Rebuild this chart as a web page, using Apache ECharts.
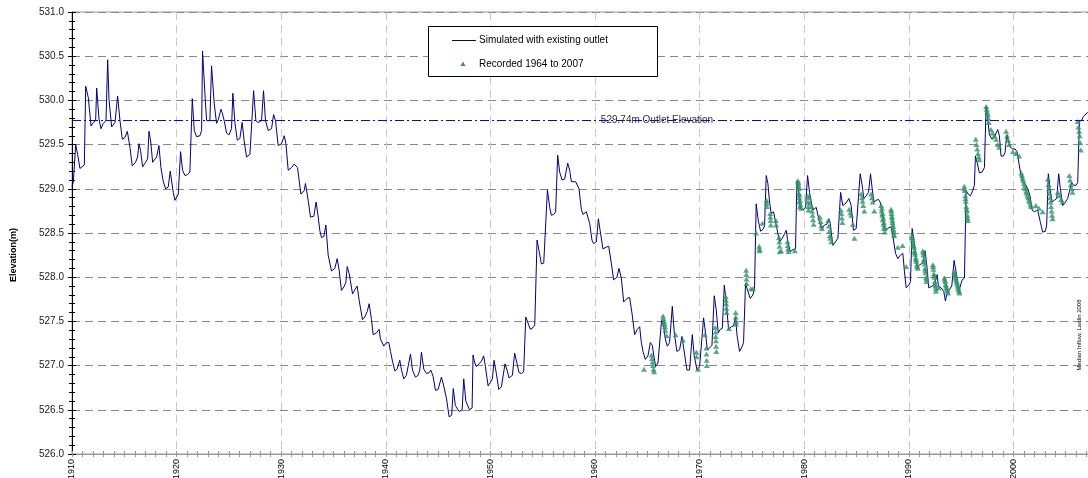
<!DOCTYPE html>
<html><head><meta charset="utf-8">
<script src="https://cdn.jsdelivr.net/npm/echarts@6/dist/echarts.min.js"></script>
<style>html,body{margin:0;padding:0;background:#fff}#c{width:1088px;height:478px}</style>
</head><body><div id="c"></div>
<script>
// ---- data ----
const seriesNames = ['Simulated with existing outlet', 'Recorded 1964 to 2007'];
const outletElevation = 529.77;
const outletLabel = '529.74m Outlet Elevation';
const yAxisTitle = 'Elevation(m)';
const creditText = 'Median Inflow, Laidin 2008';

const simulated = [
[1910.0,529.02],[1910.13,529.08],[1910.35,529.50],[1910.54,529.39],[1910.76,529.23],[1910.92,529.24],[1911.18,529.27],[1911.31,530.16],[1911.56,530.03],[1911.82,529.71],[1912.04,529.75],[1912.26,529.77],[1912.36,530.14],[1912.58,529.79],[1912.77,529.68],[1912.99,529.74],[1913.25,529.77],[1913.41,530.46],[1913.54,530.01],[1913.79,529.70],[1914.11,529.75],[1914.27,529.77],[1914.36,530.05],[1914.59,529.77],[1914.81,529.56],[1915.06,529.58],[1915.29,529.65],[1915.54,529.47],[1915.76,529.26],[1916.08,529.30],[1916.27,529.36],[1916.40,529.51],[1916.56,529.43],[1916.75,529.25],[1917.04,529.30],[1917.23,529.34],[1917.36,529.65],[1917.52,529.54],[1917.71,529.30],[1918.09,529.36],[1918.31,529.49],[1918.50,529.24],[1918.73,529.08],[1918.95,529.00],[1919.20,529.02],[1919.39,529.20],[1919.52,529.18],[1919.68,528.96],[1919.84,528.87],[1920.16,528.94],[1920.38,529.42],[1920.57,529.21],[1920.80,529.15],[1921.02,529.16],[1921.27,529.19],[1921.50,530.02],[1921.69,529.66],[1921.91,529.59],[1922.23,529.60],[1922.39,529.66],[1922.48,530.56],[1922.71,530.07],[1922.87,529.77],[1923.18,529.77],[1923.34,530.39],[1923.60,529.96],[1923.82,529.74],[1923.98,529.78],[1924.24,529.90],[1924.36,529.86],[1924.55,529.77],[1924.78,529.63],[1925.00,529.61],[1925.25,529.68],[1925.38,530.08],[1925.57,529.75],[1925.80,529.55],[1926.05,529.57],[1926.27,529.75],[1926.46,529.54],[1926.69,529.36],[1927.01,529.39],[1927.17,529.41],[1927.36,530.11],[1927.58,529.77],[1927.80,529.75],[1928.12,529.77],[1928.31,530.11],[1928.50,529.77],[1928.76,529.66],[1929.08,529.68],[1929.27,529.84],[1929.46,529.77],[1929.71,529.49],[1930.03,529.51],[1930.29,529.60],[1930.45,529.51],[1930.67,529.21],[1930.99,529.24],[1931.24,529.28],[1931.37,529.30],[1931.56,529.24],[1931.88,528.94],[1932.20,528.98],[1932.32,529.06],[1932.58,528.87],[1932.80,528.68],[1933.12,528.69],[1933.34,528.85],[1933.54,528.68],[1933.69,528.53],
[1933.85,528.45],[1934.08,528.46],[1934.27,528.59],[1934.49,528.25],[1934.81,528.07],[1935.13,528.10],[1935.35,528.21],[1935.54,528.08],[1935.76,527.85],[1935.99,527.89],[1936.18,527.94],[1936.31,528.12],[1936.50,528.04],[1936.62,528.02],[1936.82,527.81],[1937.04,527.86],[1937.26,527.90],[1937.45,527.74],[1937.77,527.52],[1937.99,527.55],[1938.22,527.61],[1938.41,527.70],[1938.63,527.52],[1938.79,527.35],[1939.11,527.37],[1939.36,527.41],[1939.49,527.30],[1939.81,527.22],[1940.06,527.26],[1940.29,527.26],[1940.45,527.16],[1940.64,527.05],[1940.86,526.94],[1941.08,526.96],[1941.34,527.06],[1941.50,526.95],[1941.72,526.85],[1941.97,526.89],[1942.13,526.91],[1942.36,527.13],[1942.55,526.95],[1942.83,526.87],[1943.09,526.89],[1943.25,526.95],[1943.41,527.15],[1943.63,526.96],[1943.89,526.91],[1944.14,526.92],[1944.30,526.95],[1944.52,526.88],[1944.75,526.72],[1945.00,526.73],[1945.16,526.73],[1945.32,526.87],[1945.54,526.77],[1945.80,526.63],[1946.05,526.42],[1946.30,526.44],[1946.45,526.74],[1946.65,526.55],[1947.00,526.48],[1947.30,526.50],[1947.45,526.85],[1947.65,526.60],[1948.00,526.50],[1948.25,526.52],[1948.34,527.12],[1948.50,527.03],[1948.66,526.99],[1948.92,527.02],[1949.14,527.05],[1949.36,527.11],[1949.52,526.99],[1949.78,526.77],[1950.00,526.81],[1950.19,526.85],[1950.35,527.06],[1950.57,526.91],[1950.80,526.73],[1951.05,526.76],[1951.21,526.77],[1951.40,527.02],[1951.59,526.95],[1951.78,526.86],[1952.10,526.89],[1952.32,527.14],[1952.55,527.02],[1952.74,526.92],[1952.96,526.91],[1953.18,526.93],[1953.38,527.55],[1953.60,527.48],[1953.82,527.41],[1954.08,527.43],[1954.24,527.46],[1954.46,528.42],[1954.65,528.30],[1954.87,528.15],[1955.10,528.16],[1955.29,528.17],[1955.45,528.99],[1955.67,528.79],[1955.83,528.70],[1956.05,528.71],[1956.24,528.74],[1956.43,529.38],[1956.62,529.19],[1956.85,529.10],[1957.10,529.11],[1957.26,529.12],[1957.39,529.29],[1957.58,529.21],[1957.74,529.08],[1957.90,529.06],[1958.15,529.08],[1958.28,529.09],[1958.47,529.00],[1958.69,528.77],[1958.85,528.71],[1959.17,528.74],[1959.33,528.75],[1959.49,528.61],[1959.71,528.42],[1959.87,528.38],[1960.13,528.40],[1960.32,528.66],
[1960.76,528.32],[1961.08,528.34],[1961.31,528.35],[1961.56,528.16],[1961.78,527.97],[1962.10,528.00],[1962.29,528.10],[1962.52,527.99],[1962.74,527.72],[1963.06,527.76],[1963.31,527.77],[1963.54,527.59],[1963.79,527.35],[1964.04,527.41],[1964.27,527.44],[1964.43,527.26],[1964.59,527.16],[1964.81,527.07],[1965.06,527.11],[1965.29,527.26],[1965.48,527.23],[1965.61,527.12],[1965.80,526.99],[1966.02,527.03],[1966.18,527.05],[1966.37,527.52],[1966.56,527.44],[1966.75,527.29],[1966.91,527.22],[1967.13,527.26],[1967.39,527.67],[1967.58,527.37],[1967.83,527.16],[1968.09,527.18],[1968.31,527.33],[1968.50,527.18],[1968.79,526.95],[1969.04,526.95],[1969.30,527.35],[1969.49,527.11],[1969.75,526.95],[1970.00,526.99],[1970.16,527.01],[1970.38,527.54],[1970.57,527.37],[1970.73,527.18],[1970.96,527.20],[1971.18,527.23],[1971.40,527.79],[1971.59,527.63],[1971.78,527.37],[1971.97,527.41],[1972.17,527.42],[1972.36,527.91],[1972.55,527.72],[1972.77,527.41],[1973.03,527.44],[1973.25,527.45],[1973.44,527.55],[1973.57,527.35],[1973.82,527.16],[1974.08,527.22],[1974.20,527.26],[1974.39,527.93],[1974.62,527.84],[1974.84,527.76],[1975.10,527.80],[1975.25,527.87],[1975.41,528.83],[1975.61,528.64],[1975.83,528.52],[1976.05,528.54],[1976.21,528.58],[1976.37,529.15],[1976.53,529.06],[1976.69,528.85],[1976.85,528.72],[1977.07,528.74],[1977.26,528.76],[1977.39,528.55],[1977.64,528.40],[1977.90,528.44],[1978.12,528.49],[1978.28,528.53],[1978.44,528.40],[1978.66,528.29],[1978.92,528.31],[1979.17,528.32],[1979.30,529.09],[1979.46,528.96],[1979.62,528.79],[1979.87,528.76],[1980.13,528.79],[1980.32,529.15],[1980.51,528.96],[1980.67,528.85],[1980.83,528.76],[1981.15,528.79],[1981.31,528.81],[1981.46,528.62],[1981.69,528.55],[1981.94,528.59],[1982.17,528.60],[1982.36,528.66],[1982.48,528.61],[1982.74,528.36],[1982.99,528.40],[1983.22,528.44],
[1983.48,528.96],[1983.69,528.81],[1984.01,528.84],[1984.27,528.89],[1984.49,528.81],[1984.71,528.53],[1984.97,528.55],[1985.13,528.57],[1985.35,529.17],[1985.54,529.04],[1985.70,528.89],[1985.92,528.92],[1986.15,528.96],[1986.34,529.17],[1986.50,529.00],[1986.66,528.85],[1986.88,528.87],[1987.10,528.88],[1987.26,528.85],[1987.42,528.76],[1987.68,528.57],[1987.83,528.53],[1988.09,528.56],[1988.31,528.57],[1988.47,528.47],[1988.73,528.27],[1988.95,528.21],[1989.20,528.25],[1989.43,528.27],[1989.59,528.06],[1989.75,527.88],[1990.00,527.91],[1990.16,527.95],[1990.32,528.55],[1990.51,528.40],[1990.76,528.12],[1991.02,528.14],[1991.34,528.16],[1991.56,528.30],[1991.75,528.10],[1991.91,527.88],[1992.23,527.90],[1992.45,527.92],[1992.71,528.03],[1992.83,527.90],[1993.09,527.88],[1993.34,527.84],[1993.50,527.73],[1993.66,527.82],[1993.89,527.86],[1994.11,527.90],[1994.33,528.19],[1994.52,528.06],[1994.78,527.84],[1995.10,527.97],[1995.32,527.99],[1995.48,528.98],[1995.67,528.94],[1995.89,528.92],[1996.11,528.98],[1996.27,529.04],[1996.37,529.37],[1996.53,529.30],[1996.75,529.18],[1997.01,529.19],[1997.23,529.24],[1997.39,529.93],[1997.55,529.78],[1997.71,529.61],[1997.96,529.56],[1998.18,529.58],[1998.34,529.63],[1998.50,529.67],[1998.66,529.60],[1998.82,529.37],[1999.04,529.37],[1999.20,529.41],[1999.36,529.61],[1999.55,529.60],[1999.71,529.47],[1999.94,529.45],[2000.16,529.45],[2000.35,529.42],[2000.57,529.26],[2000.73,529.15],[2000.89,529.07],[2001.15,529.05],[2001.37,529.00],[2001.59,528.92],[2001.78,528.76],[2002.01,528.74],[2002.32,528.76],[2002.58,528.62],[2002.80,528.51],[2003.06,528.52],[2003.18,528.59],[2003.34,529.17],[2003.50,529.00],[2003.69,528.85],[2003.92,528.87],[2004.14,528.89],[2004.33,529.17],[2004.49,529.00],[2004.71,528.81],[2004.97,528.85],[2005.19,528.89],[2005.41,529.00],[2005.57,529.07],[2005.76,529.04],[2005.99,529.04],[2006.15,529.07],[2006.31,529.76],[2006.56,529.78],[2006.69,529.82],[2006.88,529.84],[2007.07,529.86],[2007.3,529.88]
];

const recorded = [
[1964.68,526.96],
[1965.40,527.12],[1965.45,527.08],[1965.50,527.04],[1965.55,527.00],[1965.60,526.96],[1965.65,526.93],
[1966.50,527.56],[1966.55,527.53],[1966.60,527.50],[1966.65,527.47],[1966.70,527.44],[1966.72,527.40],[1966.85,527.34],
[1967.70,527.35],[1968.40,527.29],
[1969.70,527.15],[1969.72,527.10],[1969.85,526.96],
[1970.50,527.35],[1970.65,527.20],[1970.66,527.13],[1970.68,527.06],[1970.70,527.00],
[1971.50,527.43],[1971.52,527.38],[1971.54,527.33],[1971.56,527.28],[1971.58,527.22],[1971.60,527.16],
[1972.50,527.78],[1972.52,527.74],[1972.54,527.70],[1972.56,527.65],[1972.58,527.60],[1972.80,527.42],
[1973.45,527.60],[1973.46,527.55],[1973.47,527.50],[1973.48,527.47],
[1974.45,528.08],[1974.47,528.03],[1974.49,527.98],[1974.50,527.93],[1974.90,527.87],[1975.10,527.87],
[1975.40,528.50],[1975.70,528.35],[1975.72,528.32],[1975.74,528.30],[1976.00,528.61],
[1976.40,528.87],[1976.42,528.84],[1976.44,528.80],
[1976.75,528.72],[1976.77,528.68],[1976.79,528.64],[1976.81,528.59],
[1977.30,528.64],[1977.32,528.59],
[1977.60,528.45],[1977.62,528.40],[1977.64,528.35],[1977.66,528.29],[1977.80,528.30],
[1978.40,528.40],[1978.43,528.36],[1978.46,528.32],[1978.50,528.29],[1979.10,528.30],
[1979.40,529.09],[1979.43,529.05],[1979.46,529.00],[1979.50,528.95],[1979.53,528.90],[1979.56,528.85],[1979.60,528.80],
[1979.45,529.07],[1979.50,529.02],[1979.55,528.93],[1979.60,528.87],[1979.65,528.82],[1979.70,528.78],
[1980.35,528.92],[1980.37,528.85],[1980.39,528.80],[1980.41,528.76],[1980.47,528.90],[1980.55,528.84],
[1980.70,528.80],[1980.75,528.75],[1980.80,528.70],[1980.85,528.65],[1980.90,528.60],
[1981.50,528.68],[1981.57,528.63],[1981.63,528.58],[1981.70,528.55],
[1982.30,528.64],[1982.35,528.58],[1982.40,528.52],[1982.45,528.47],[1982.50,528.44],[1982.60,528.40],
[1983.50,528.76],[1983.55,528.72],[1983.60,528.67],[1983.65,528.62],
[1984.30,528.77],[1984.40,528.73],[1984.50,528.70],[1984.65,528.60],[1984.80,528.44],
[1985.45,528.94],[1985.52,528.90],[1985.58,528.86],[1985.65,528.81],[1985.75,528.75],
[1986.40,528.94],[1986.47,528.90],[1986.55,528.85],[1986.70,528.75],
[1987.35,528.81],[1987.40,528.75],[1987.46,528.70],[1987.52,528.65],[1987.58,528.60],[1987.64,528.55],[1987.70,528.51],
[1987.43,528.78],[1987.49,528.72],[1987.55,528.67],[1987.61,528.62],[1987.67,528.57],
[1988.30,528.77],[1988.35,528.72],[1988.40,528.67],[1988.45,528.62],[1988.50,528.57],[1988.55,528.52],[1988.60,528.47],
[1988.33,528.75],[1988.38,528.69],[1988.43,528.64],[1988.48,528.59],[1988.53,528.54],[1988.58,528.49],
[1988.95,528.34],[1989.40,528.36],[1989.75,528.12],
[1990.30,528.47],[1990.36,528.42],[1990.42,528.38],[1990.48,528.34],[1990.54,528.30],[1990.60,528.26],[1990.66,528.22],[1990.72,528.18],[1990.78,528.14],[1990.85,528.10],
[1990.33,528.45],[1990.45,528.36],[1990.57,528.28],[1990.69,528.20],[1990.81,528.12],
[1991.35,528.30],[1991.40,528.25],[1991.45,528.20],[1991.50,528.15],[1991.55,528.10],[1991.60,528.05],[1991.65,528.00],[1991.70,527.95],
[1991.38,528.28],[1991.48,528.18],[1991.58,528.08],[1991.68,527.98],
[1992.30,528.14],[1992.35,528.09],[1992.40,528.04],[1992.45,528.00],[1992.50,527.95],[1992.55,527.90],[1992.60,527.84],[1992.85,527.88],
[1992.33,528.12],[1992.43,528.02],[1992.53,527.92],[1992.58,527.87],
[1993.40,527.99],[1993.48,527.95],[1993.56,527.90],[1993.65,527.86],[1993.75,527.82],
[1993.44,527.97],[1993.52,527.92],[1993.60,527.88],[1993.70,527.84],
[1994.35,528.06],[1994.43,528.02],[1994.51,527.98],[1994.60,527.94],[1994.68,527.90],[1994.76,527.86],[1994.85,527.82],
[1994.39,528.04],[1994.47,528.00],[1994.55,527.96],[1994.64,527.92],[1994.72,527.88],[1994.80,527.84],
[1995.30,529.03],[1995.35,528.98],[1995.40,528.92],[1995.45,528.86],[1995.50,528.80],[1995.55,528.75],[1995.60,528.70],[1995.65,528.64],
[1995.33,529.00],[1995.43,528.89],[1995.53,528.77],[1995.62,528.67],
[1996.40,529.56],[1996.47,529.50],[1996.54,529.45],[1996.61,529.40],[1996.68,529.36],[1996.75,529.33],
[1997.40,529.93],[1997.45,529.90],[1997.50,529.87],[1997.55,529.84],[1997.60,529.80],[1997.65,529.75],
[1997.85,529.67],[1998.00,529.63],[1998.18,529.60],[1998.35,529.56],[1998.50,529.50],[1998.65,529.47],
[1999.30,529.65],[1999.40,529.60],[1999.50,529.55],[1999.60,529.50],
[1999.95,529.42],[2000.25,529.40],[2000.55,529.37],
[2000.75,529.18],[2000.88,529.12],[2001.02,529.06],[2001.15,529.00],[2001.28,528.95],[2001.42,528.90],[2001.56,528.85],[2001.70,528.80],
[2000.82,529.15],[2000.95,529.09],[2001.08,529.03],[2001.22,528.97],[2001.35,528.92],[2001.49,528.87],[2001.63,528.82],
[2002.15,528.81],[2002.45,528.78],[2002.80,528.74],
[2003.30,529.11],[2003.35,529.05],[2003.40,529.00],[2003.45,528.95],[2003.50,528.90],[2003.55,528.85],[2003.60,528.80],[2003.65,528.75],[2003.70,528.70],[2003.75,528.66],
[2004.25,528.96],[2004.40,528.92],[2004.55,528.88],[2004.70,528.85],
[2005.35,529.15],[2005.42,529.10],[2005.50,529.05],[2005.58,529.00],[2005.65,528.96],
[2006.15,529.76],[2006.22,529.70],[2006.28,529.65],[2006.34,529.60],[2006.40,529.52],[2006.45,529.44]
];

// ---- chart ----
const chart = echarts.init(document.getElementById('c'), null, {renderer: 'canvas'});
const FONT = '"Liberation Sans", Arial, sans-serif';
const xBase = {
  type: 'value', min: 1910, max: 2010, interval: 10, position: 'bottom', gridIndex: 0
};
const yBase = {
  type: 'value', min: 526, max: 531, interval: 0.5, position: 'left', gridIndex: 0
};
const option = {
  animation: false,
  backgroundColor: '#fff',
  grid: {left: 72, right: -30, top: 12, bottom: 24, show: true, borderColor: '#999', borderWidth: 1, containLabel: false, outerBoundsMode: 'none'},
  xAxis: [
    Object.assign({}, xBase, {
      axisLine: {show: true, lineStyle: {color: '#999', width: 1}},
      axisTick: {show: true, length: 3, lineStyle: {color: '#999'}},
      minorTick: {show: true, splitNumber: 10, length: 3, lineStyle: {color: '#999'}},
      axisLabel: {show: true, rotate: 90, margin: 5, fontSize: 9, color: '#000', fontFamily: FONT,
        formatter: v => (v % 10 === 0 && v <= 2000) ? String(v) : ''},
      splitLine: {show: true, lineStyle: {color: '#c8c8c8', width: 1, type: [8, 5]}},
      minorSplitLine: {show: false}
    }),
    Object.assign({}, xBase, {
      axisLine: {show: false},
      axisTick: {show: true, inside: true, length: 3, lineStyle: {color: '#999'}},
      minorTick: {show: true, splitNumber: 10, length: 3, lineStyle: {color: '#999'}},
      axisLabel: {show: false}, splitLine: {show: false}
    })
  ],
  yAxis: [
    Object.assign({}, yBase, {
      axisLine: {show: true, lineStyle: {color: '#000', width: 1}},
      axisTick: {show: true, length: 4, lineStyle: {color: '#000'}},
      minorTick: {show: true, splitNumber: 5, length: 3, lineStyle: {color: '#000'}},
      axisLabel: {show: true, margin: 8, fontSize: 10, color: '#222', fontFamily: FONT,
        formatter: v => v.toFixed(1)},
      splitLine: {show: true, lineStyle: {color: '#888', width: 1, type: [8, 5]}}
    }),
    Object.assign({}, yBase, {
      axisLine: {show: false},
      axisTick: {show: true, inside: true, length: 4, lineStyle: {color: '#000'}},
      minorTick: {show: true, splitNumber: 5, length: 3, lineStyle: {color: '#000'}},
      axisLabel: {show: false}, splitLine: {show: false}
    })
  ],
  series: [
    {
      name: seriesNames[0], type: 'line', data: simulated, showSymbol: false, symbol: 'none',
      lineStyle: {color: '#000080', width: 1}, itemStyle: {color: '#000080'}, z: 3,
      markLine: {
        silent: true, symbol: ['none', 'none'], animation: false,
        lineStyle: {color: '#0000ff', width: 1, type: [9, 3, 2, 3]},
        label: {show: false},
        data: [{yAxis: outletElevation}]
      }
    },
    {
      name: seriesNames[1], type: 'scatter', data: recorded, symbol: 'triangle', symbolSize: [6, 5],
      itemStyle: {color: '#2e9464'}, z: 4
    }
  ]
};
chart.setOption(option);

const yRef = chart.convertToPixel({yAxisIndex: 0}, outletElevation);
chart.setOption({
  graphic: [
    {type: 'text', x: 657, y: yRef, z: 10, style: {text: outletLabel, font: '10px ' + FONT, fill: '#333', align: 'center', verticalAlign: 'middle'}},
    {type: 'rect', shape: {x: 428.5, y: 26.5, width: 229, height: 50}, style: {fill: '#fff', stroke: '#000', lineWidth: 1}, z: 10},
    {type: 'line', shape: {x1: 452, y1: 40.5, x2: 476, y2: 40.5}, style: {stroke: '#000080', lineWidth: 1}, z: 11},
    {type: 'polygon', shape: {points: [[463, 61.5], [465.5, 66], [460.5, 66]]}, style: {fill: '#2e9464'}, z: 11},
    {type: 'text', x: 479, y: 40.5, z: 11, style: {text: seriesNames[0], font: '10px ' + FONT, fill: '#000', verticalAlign: 'middle'}},
    {type: 'text', x: 479, y: 64, z: 11, style: {text: seriesNames[1], font: '10px ' + FONT, fill: '#000', verticalAlign: 'middle'}},
    {type: 'text', x: 14, y: 255, rotation: Math.PI / 2, z: 11, style: {text: yAxisTitle, font: 'bold 9px ' + FONT, fill: '#000', align: 'center', verticalAlign: 'middle'}},
    {type: 'text', x: 1079, y: 335, rotation: Math.PI / 2, z: 11, style: {text: creditText, font: '6px ' + FONT, fill: '#000', align: 'center', verticalAlign: 'middle'}}
  ]
});
</script>
</body></html>
